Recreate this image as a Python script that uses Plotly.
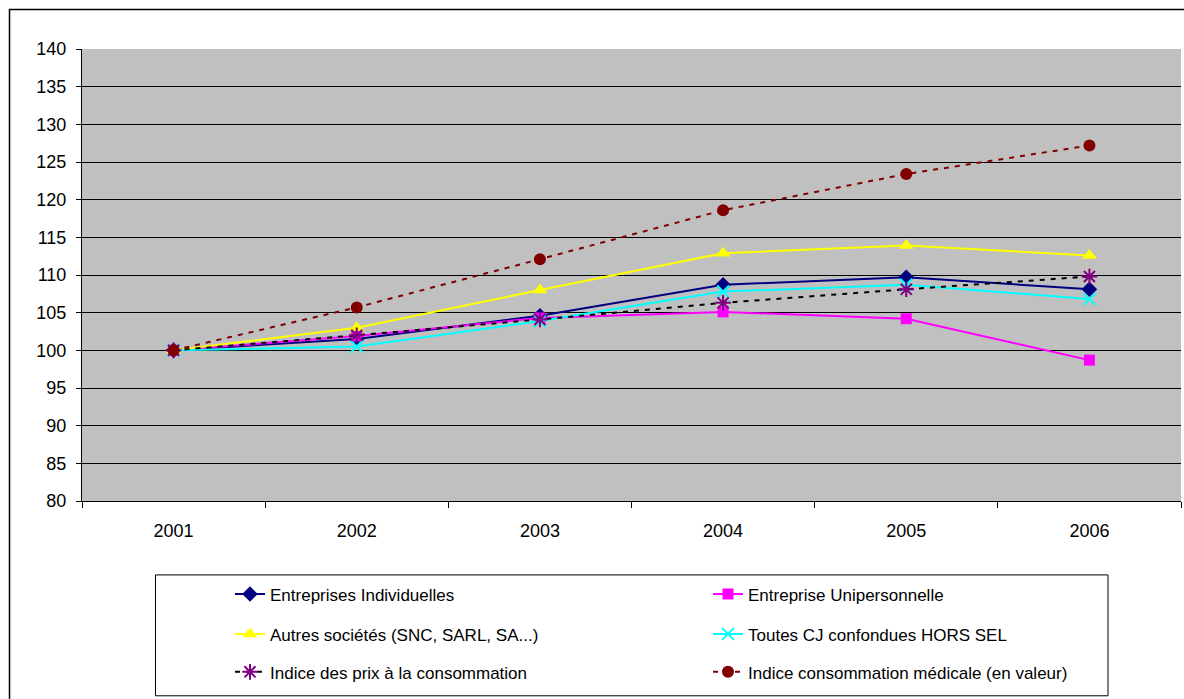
import plotly.graph_objects as go

years = ["2001", "2002", "2003", "2004", "2005", "2006"]
entreprises_individuelles = [100, 101.5, 104.6, 108.7, 109.7, 108.1]
entreprise_unipersonnelle = [100, 101.9, 104.3, 105.1, 104.2, 98.7]
autres_societes = [100, 103.0, 108.0, 112.9, 113.9, 112.6]
toutes_cj = [100, 100.5, 103.9, 107.8, 108.7, 106.8]
indice_prix = [100, 102.0, 104.1, 106.3, 108.1, 109.8]
indice_medical = [100, 105.7, 112.1, 118.6, 123.4, 127.2]

names = [
    "Entreprises Individuelles",
    "Entreprise Unipersonnelle",
    "Autres sociétés (SNC, SARL, SA...)",
    "Toutes CJ confondues HORS SEL",
    "Indice des prix à la consommation",
    "Indice consommation médicale (en valeur)",
]

FONT = "Liberation Sans, Arial, sans-serif"
fig = go.Figure()

specs = [
    (entreprises_individuelles, dict(color="#000080", width=2), dict(symbol="diamond", size=12, color="#000080")),
    (entreprise_unipersonnelle, dict(color="#FF00FF", width=2), dict(symbol="square", size=11, color="#FF00FF")),
    (autres_societes, dict(color="#FFFF00", width=2), dict(symbol="triangle-up", size=13, color="#FFFF00")),
    (toutes_cj, dict(color="#00FFFF", width=2), dict(symbol="x-thin-open", size=12, color="#00FFFF", line=dict(width=2, color="#00FFFF"))),
    (indice_prix, dict(color="#000000", width=2, dash="5px,6px"), dict(symbol="asterisk-open", size=13, color="#800080", line=dict(width=2, color="#800080"))),
    (indice_medical, dict(color="#800000", width=2, dash="5px,6px"), dict(symbol="circle", size=12, color="#800000")),
]

legend_ids = ["legend", "legend2", "legend3", "legend4", "legend5", "legend6"]
for i, (vals, ln, mk) in enumerate(specs):
    fig.add_trace(go.Scatter(x=years, y=vals, name=names[i], mode="lines+markers",
                             line=ln, marker=mk, legend=legend_ids[i]))

FW, FH = 1184, 699
# plot area geometry (page px)
L, R, T, B = 82, 1181, 49, 501.5
W, H = R - L, B - T

def px_x(x):
    return (x - L) / W

def px_y(y):
    return (B - y) / H

layout_legends = {}
col_x = [230, 708]
row_y = [595, 635, 673]
for i, lid in enumerate(legend_ids):
    layout_legends[lid] = dict(
        x=px_x(col_x[i % 2]), y=px_y(row_y[i // 2]), xanchor="left", yanchor="middle",
        xref="paper", yref="paper", orientation="h", bgcolor="rgba(0,0,0,0)",
        font=dict(family=FONT, size=17, color="black"),
    )

fig.update_layout(
    width=FW, height=FH,
    margin=dict(l=L, r=FW - R, t=T, b=FH - B),
    paper_bgcolor="white", plot_bgcolor="#C0C0C0",
    showlegend=True,
    font=dict(family=FONT, size=18, color="black"),
    **layout_legends,
    shapes=[
        dict(type="rect", xref="paper", yref="paper",
             x0=px_x(9.5), x1=px_x(1200), y0=px_y(720), y1=px_y(9.5),
             line=dict(color="black", width=1.5), fillcolor="rgba(0,0,0,0)", layer="below"),
        dict(type="rect", xref="paper", yref="paper",
             x0=px_x(155.5), x1=px_x(1108), y0=px_y(696.5), y1=px_y(575.5),
             line=dict(color="black", width=1), fillcolor="rgba(0,0,0,0)"),
    ],
)

fig.update_xaxes(
    type="category", range=[-0.5, 5.5], showgrid=False, showline=True, linecolor="black", linewidth=1,
    ticks="outside", tickson="boundaries", ticklen=6, tickcolor="black",
    tickfont=dict(family=FONT, size=18, color="black"), ticklabelstandoff=13, mirror=False,
)
fig.update_yaxes(
    range=[80, 140], dtick=5, showgrid=True, gridcolor="black", gridwidth=1,
    showline=True, linecolor="black", linewidth=1, ticks="outside", ticklen=5, tickcolor="black",
    tickfont=dict(family=FONT, size=18, color="black"), ticklabelstandoff=6, zeroline=False,
)

fig.write_html(
    "out.html",
    config={"displayModeBar": False},
    post_script="document.body.style.margin='0';document.body.style.overflow='hidden';",
)
